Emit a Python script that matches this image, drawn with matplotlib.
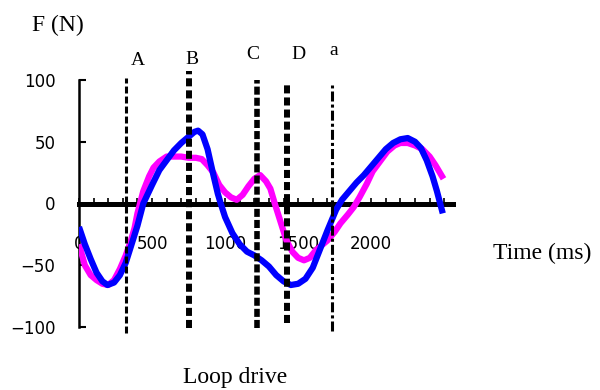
import matplotlib
matplotlib.use("Agg")
import matplotlib.pyplot as plt

plt.rcParams['lines.scale_dashes'] = False

# Blue trace (time in ms, force in N)
blue_t = [0, 40, 80, 120, 160, 195, 240, 280, 320, 360, 400, 440, 480, 500,
          550, 600, 650, 700, 750, 790, 815, 845, 880, 920, 950, 970, 1000,
          1050, 1100, 1150, 1200, 1250, 1300, 1350, 1400, 1450, 1500, 1550,
          1600, 1650, 1700, 1760, 1800, 1850, 1900, 1950, 2000, 2050, 2100,
          2150, 2200, 2250, 2300, 2340, 2380, 2420, 2450, 2490]
blue_f = [-19, -33, -45, -56, -63, -66, -64, -58, -48, -33, -18, 0, 10, 15,
          27, 35, 43, 49, 54, 58, 59, 56, 44, 23, 8, 0, -11,
          -24, -33, -39, -42, -46, -51, -58, -63, -66, -65, -61,
          -52, -37, -22, -5, 3, 10, 17, 23, 30, 37, 44,
          49, 52, 53, 50, 45, 35, 22, 10, -8]

# Magenta trace
mag_t = [0, 40, 80, 120, 160, 200, 240, 280, 320, 350, 380, 400, 440, 480,
         510, 550, 600, 650, 700, 750, 800, 840, 880, 920, 960, 1000, 1040,
         1080, 1120, 1160, 1200, 1240, 1280, 1310, 1340, 1380, 1420, 1460,
         1500, 1540, 1580, 1620, 1660, 1700, 1750, 1790, 1840, 1880, 1920,
         1970, 2010, 2060, 2110, 2160, 2200, 2250, 2300, 2350, 2400, 2440,
         2470, 2495]
mag_f = [-33, -50, -58, -62, -65, -66, -62, -53, -42, -32, -20, -8, 10, 22,
         29, 34, 38, 38, 38, 37, 37, 36, 31, 25, 15, 9, 5,
         3, 7, 14, 20, 23, 18, 12, 0, -15, -30, -39,
         -44, -46, -44, -38, -34, -30, -23, -16, -9, -3, 5,
         16, 26, 34, 42, 47, 49, 49, 47, 44, 38, 31,
         25, 20]

# Event markers
event_labels = ['A', 'B', 'C', 'D', 'a']
event_t = [320, 753, 1217, 1425, 1735]
event_top = [102, 107, 100, 96, 96]
event_bottom = [-105, -101, -101, -97, -103]
event_label_t = [404, 771, 1189, 1500, 1740]
event_label_f = [116, 117, 121, 121, 124]
event_lw = [2.2, 4.3, 4.0, 4.3, 2.2]
event_dashes = [(5, 2.2), (5.8, 2.9), (5.8, 2.2), (5.8, 2.9), (7.2, 2.2, 2.2, 2.2)]

fig = plt.figure(figsize=(6, 3.9), dpi=100)
ax = fig.add_axes([79 / 600, 63 / 390, 374 / 600, 247 / 390])

ax.plot(mag_t, mag_f, color='#ff00ff', linewidth=4.5, zorder=3,
        solid_capstyle='butt')
ax.plot(blue_t, blue_f, color='#0000ff', linewidth=4.5, zorder=4,
        solid_capstyle='butt')

for i in range(len(event_t)):
    ln, = ax.plot([event_t[i], event_t[i]], [event_bottom[i], event_top[i]],
                  color='black', linewidth=event_lw[i], zorder=5,
                  clip_on=False, solid_capstyle='butt')
    ln.set_dashes(event_dashes[i])
    ln.set_dash_capstyle('butt')
    ax.text(event_label_t[i], event_label_f[i], event_labels[i],
            fontsize=14, family='Liberation Serif', ha='center', va='center')

ax.set_xlim(0, 2560)
ax.set_ylim(-100, 100)

ax.spines['top'].set_visible(False)
ax.spines['right'].set_visible(False)
ax.spines['bottom'].set_position(('data', 0))
ax.spines['bottom'].set_linewidth(3.6)
ax.spines['left'].set_linewidth(1.8)

ax.set_xticks([0, 500, 1000, 1500, 2000])
ax.set_xticks(list(range(100, 2600, 100)), minor=True)
ax.set_yticks([-100, -50, 0, 50, 100])
ax.tick_params(axis='x', which='both', direction='in', length=4, width=1.2,
               pad=23, labelsize=12)
ax.tick_params(axis='y', direction='in', length=5, width=1.5,
               pad=17, labelsize=12)

fig.text(32 / 600, 1 - 25 / 390, 'F (N)', family='Liberation Serif',
         fontsize=17, ha='left', va='center')
fig.text(493 / 600, 1 - 253 / 390, 'Time (ms)', family='Liberation Serif',
         fontsize=17, ha='left', va='center')
fig.text(235 / 600, 1 - 378 / 390, 'Loop drive', family='Liberation Serif',
         fontsize=17, ha='center', va='center')

fig.savefig('out.png', dpi=100)
